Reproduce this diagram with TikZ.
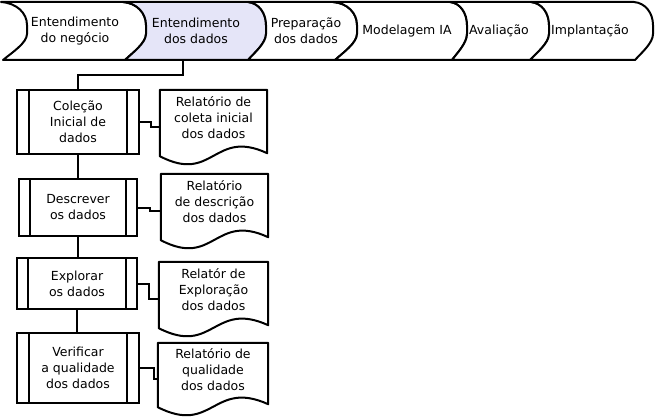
\documentclass[tikz,border=0pt]{standalone}
\usepackage{fontspec}
\setmainfont{DejaVu Sans}
\usetikzlibrary{calc}
\definecolor{lav}{RGB}{229,229,248}
\tikzset{
  every picture/.style={x=1pt,y=-1pt},
  lw/.style={line width=2pt},
  txt/.style={font=\fontsize{12.5}{16}\selectfont, align=center, inner sep=0pt},
  chev/.style={lw, draw=black, fill=white, line join=round},
  sepdown/.style n args={3}{insert path={ .. controls ({#1+0.6*(#2-#1)},3) and (#2,13) .. (#2,25) -- (#2,34) .. controls (#2,43) and ({#3+0.35*(#2-#3)},53) .. (#3,60)}},
  sepup/.style n args={3}{insert path={ .. controls ({#3+0.35*(#2-#3)},53) and (#2,43) .. (#2,34) -- (#2,25) .. controls (#2,13) and ({#1+0.6*(#2-#1)},3) .. (#1,2)}},
  procbox/.style={lw, draw=black, fill=white, txt},
  docarea/.style={inner sep=0pt, minimum width=#1},
  docline/.style={lw, draw=black, fill=white, line join=round},
  conn/.style={lw, draw=black},
}
\begin{document}
\begin{tikzpicture}
\fill[white] (0,0) rectangle (657,420);
\useasboundingbox (0,0) rectangle (657,420);
% chevron strip
\path[chev] (1,2) -- (123,2) [sepdown={123}{146}{125}] -- (3,60) [sepup={1}{27}{3}] -- cycle;
\path[chev, fill=lav] (123,2) -- (248,2) [sepdown={248}{266}{248}] -- (125,60) [sepup={123}{146}{125}] -- cycle;
\path[chev] (248,2) -- (333,2) [sepdown={333}{357}{335}] -- (248,60) [sepup={248}{266}{248}] -- cycle;
\path[chev] (333,2) -- (450,2) [sepdown={450}{467}{452}] -- (335,60) [sepup={333}{357}{335}] -- cycle;
\path[chev] (450,2) -- (531,2) [sepdown={531}{549}{530}] -- (452,60) [sepup={450}{467}{452}] -- cycle;
\path[chev] (531,2) -- (634,2) [sepdown={634}{653}{635}] -- (530,60) [sepup={531}{549}{530}] -- cycle;
\node[txt] (ch1) at (75,31) {Entendimento\\do negócio};
\node[txt] (ch2) at (196,31) {Entendimento\\dos dados};
\node[txt] (ch3) at (306,31) {Preparação\\dos dados};
\node[txt] (ch4) at (407,31) {Modelagem IA};
\node[txt] (ch5) at (499,31) {Avaliação};
\node[txt] (ch6) at (590,31) {Implantação};
\coordinate (c2b) at (183,60);
% process boxes
\node[procbox, minimum width=122pt, minimum height=64pt] (b1) at (78,122) {Coleção\\Inicial de\\dados};
\node[procbox, minimum width=118pt, minimum height=57pt] (b2) at (78,207.5) {Descrever\\os dados};
\node[procbox, minimum width=120pt, minimum height=51pt] (b3) at (77,283.5) {Explorar\\os dados};
\node[procbox, minimum width=122pt, minimum height=70pt] (b4) at (78,368) {Verificar\\a qualidade\\dos dados};
\foreach \b/\o in {b1/13,b2/12,b3/12,b4/13}{
  \draw[lw] ($(\b.north west)+(\o,0)$) -- ($(\b.south west)+(\o,0)$);
  \draw[lw] ($(\b.north east)+(-\o,0)$) -- ($(\b.south east)+(-\o,0)$);
}
% documents
\node[docarea=107pt, minimum height=74pt] (d1) at (213.5,127) {};
\node[docarea=107pt, minimum height=74pt] (d2) at (214.5,211) {};
\node[docarea=109pt, minimum height=74pt] (d3) at (213.5,299) {};
\node[docarea=110pt, minimum height=72pt] (d4) at (213,379) {};
\foreach \d in {d1,d2,d3,d4}{
  \path[docline] (\d.north west) -- (\d.north east) -- ($(\d.south east)+(0,-11)$)
    .. controls ($(\d.south)+(0,-36)$) and ($(\d.south)+(0,20)$) .. ($(\d.south west)+(0,-8)$) -- cycle;
}
\node[txt] (d1t) at (213.5,118) {Relatório de\\coleta inicial\\dos dados};
\node[txt] (d2t) at (214.5,202) {Relatório\\de descrição\\dos dados};
\node[txt] (d3t) at (213.5,290) {Relatór de\\Exploração\\dos dados};
\node[txt] (d4t) at (213,370) {Relatório de\\qualidade\\dos dados};
% connectors
\draw[conn] (c2b) -- ++(0,15) -| (b1.north);
\draw[conn] (b1.south) -- (b1.south |- b2.north);
\draw[conn] (b2.south) -- (b2.south |- b3.north);
\draw[conn] (b3.south) -- (b3.south |- b4.north);
\draw[conn] (b1.east) -- ++(11,0) |- (d1.west);
\draw[conn] (b2.east) -- ++(12,0) |- (d2.west);
\draw[conn] (b3.east) -- ++(11,0) |- (d3.west);
\draw[conn] (b4.east) -- ++(14,0) |- (d4.west);
\end{tikzpicture}
\end{document}
